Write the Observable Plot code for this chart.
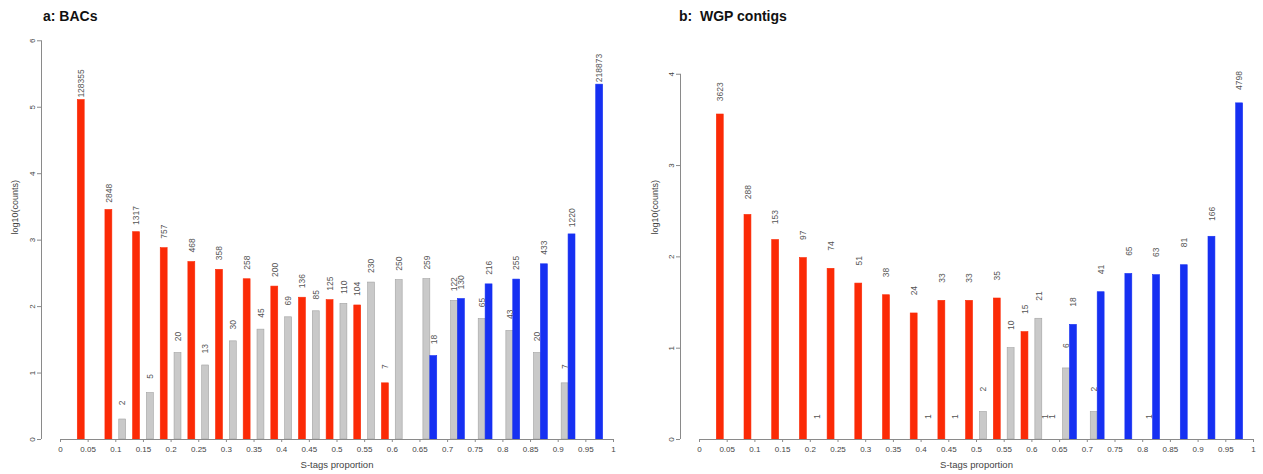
<!DOCTYPE html>
<html><head><meta charset="utf-8">
<script src="https://cdn.jsdelivr.net/npm/d3@7"></script>
<script src="https://cdn.jsdelivr.net/npm/@observablehq/plot@0.6"></script>
<style>
body{margin:0;background:#fff;font-family:"Liberation Sans",Arial,sans-serif;}
#wrap{display:flex;width:1263px;height:474px;overflow:hidden;}
.panel{display:flex;flex-direction:column;}
.title{height:24px;box-sizing:border-box;padding-top:9px;line-height:15px;font-weight:bold;font-size:14px;color:#111;white-space:pre;}
</style></head><body>
<div id="wrap">
 <div class="panel" id="pa" style="width:630px"><div class="title" style="padding-left:43px">a: BACs</div></div>
 <div class="panel" id="pb" style="width:633px"><div class="title" style="padding-left:49px">b:  WGP contigs</div></div>
</div>
<script>
// ---- data ----
const binStarts = [0,0.05,0.1,0.15,0.2,0.25,0.3,0.35,0.4,0.45,0.5,0.55,0.6,0.65,0.7,0.75,0.8,0.85,0.9,0.95];
const xTickValues = [0,0.05,0.1,0.15,0.2,0.25,0.3,0.35,0.4,0.45,0.5,0.55,0.6,0.65,0.7,0.75,0.8,0.85,0.9,0.95,1];
const xTickLabels = ["0","0.05","0.1","0.15","0.2","0.25","0.3","0.35","0.4","0.45","0.5","0.55","0.6","0.65","0.7","0.75","0.8","0.85","0.9","0.95","1"];
const yTicksA = [0,1,2,3,4,5,6];
const yTicksB = [0,1,2,3,4];

// panel a: BACs (counts per bin, null = no bar)
const bacRed  = [128355,2848,1317,757,468,358,258,200,136,125,104,7,null,null,null,null,null,null,null,null];
const bacGrey = [null,null,2,5,20,13,30,45,69,85,110,230,250,259,122,65,43,20,7,null];
const bacBlue = [null,null,null,null,null,null,null,null,null,null,null,null,null,18,130,216,255,433,1220,218873];

// panel b: WGP contigs
const wgpRed  = [3623,288,153,97,74,51,38,24,33,33,35,15,1,null,null,null,null,null,null,null];
const wgpGrey = [null,null,null,null,1,null,null,null,1,1,2,10,21,6,2,null,1,null,null,null];
const wgpBlue = [null,null,null,null,null,null,null,null,null,null,null,null,1,18,41,65,63,81,166,4798];

const titles = {x: "S-tags proportion", y: "log10(counts)"};

// ---- styling ----
const colRed = "#fb2a06", colBlue = "#1630f2", colGrey = "#c9c9c9";
const binW = 0.05;
const slot = {grey: 0.25, blue: 0.5, red: 0.75};
const halfW = 0.125;

function rows(values, key) {
  return values.map((c, i) => ({bin: binStarts[i], count: c, key}))
    .filter(d => d.count != null);
}

function panel(el, cfg) {
  const {width, marginLeft, zeroPx, onePx, yMax, yTicks, red, grey, blue} = cfg;
  const height = 450, marginTop = 5, marginBottom = 35;
  const xLeft = -(zeroPx - marginLeft) / (onePx - zeroPx);
  const marginRight = width - onePx;
  const series = [
    {data: rows(grey, "grey"), fill: colGrey, stroke: "#a2a2a2"},
    {data: rows(blue, "blue"), fill: colBlue, stroke: colBlue},
    {data: rows(red, "red"), fill: colRed, stroke: colRed}
  ];
  const cx = d => d.bin + binW * slot[d.key];
  const marks = [];
  for (const s of series) {
    marks.push(Plot.rect(s.data, {
      x1: d => cx(d) - binW * halfW, x2: d => cx(d) + binW * halfW,
      y1: 0, y2: d => Math.log10(d.count),
      fill: s.fill, stroke: s.stroke, strokeWidth: 0.6
    }));
  }
  const allRows = series.flatMap(s => s.data);
  marks.push(Plot.text(allRows, {
    x: cx, y: d => Math.log10(d.count) + 0.25, text: d => String(d.count),
    rotate: -90, fontSize: 8.5, fill: "#555"
  }));
  marks.push(Plot.ruleY([0], {x1: xTickValues[0], x2: xTickValues[xTickValues.length - 1], stroke: "#8a8a8a"}));
  marks.push(Plot.ruleX([xLeft], {y1: yTicks[0], y2: yTicks[yTicks.length - 1], stroke: "#8a8a8a"}));
  marks.push(Plot.axisX(xTickValues, {
    tickSize: 3, tickPadding: 4, fontSize: 8, stroke: "#8a8a8a", fill: "#444", label: null,
    tickFormat: d => xTickLabels[xTickValues.indexOf(d)]
  }));
  marks.push(Plot.axisY(yTicks, {
    tickSize: 4, tickPadding: 3, tickRotate: -90, fontSize: 8, stroke: "#8a8a8a", fill: "#444", label: null,
    tickFormat: d => String(d)
  }));
  marks.push(Plot.text([titles.x], {
    x: (xTickValues[0] + xTickValues[xTickValues.length - 1]) / 2,
    frameAnchor: "bottom", dy: 28, fontSize: 9.5, fill: "#444"
  }));
  marks.push(Plot.text([titles.y], {
    frameAnchor: "left", dx: cfg.yLabelDx, rotate: -90, fontSize: 9, fill: "#444"
  }));
  const svg = Plot.plot({
    width, height, marginLeft, marginRight, marginTop, marginBottom,
    x: {domain: [xLeft, 1]},
    y: {domain: [0, yMax]},
    style: {fontFamily: "Liberation Sans, Arial, sans-serif", background: "white", overflow: "visible"},
    marks
  });
  el.appendChild(svg);
}

panel(document.getElementById("pa"), {
  width: 630, marginLeft: 41, zeroPx: 60, onePx: 613, yMax: 6.17, yTicks: yTicksA,
  red: bacRed, grey: bacGrey, blue: bacBlue, yLabelDx: -26
});
panel(document.getElementById("pb"), {
  width: 633, marginLeft: 50, zeroPx: 69, onePx: 623, yMax: 4.49, yTicks: yTicksB,
  red: wgpRed, grey: wgpGrey, blue: wgpBlue, yLabelDx: -25
});
</script>
</body></html>
